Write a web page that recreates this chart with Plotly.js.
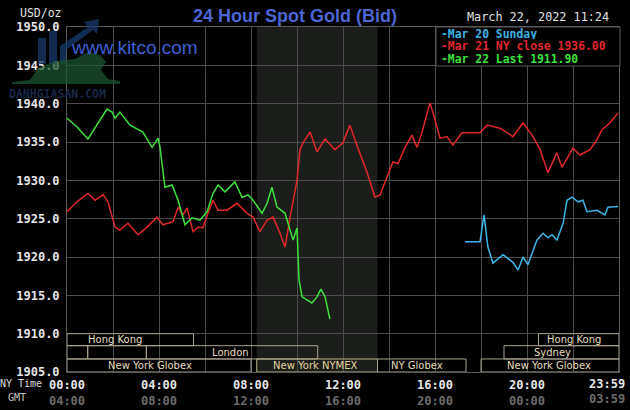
<!DOCTYPE html>
<html><head><meta charset="utf-8">
<script src="https://cdn.plot.ly/plotly-3.0.1.min.js"></script>
<style>html,body{margin:0;padding:0;background:#000;}#chart{width:630px;height:410px;}</style>
</head><body><div id="chart"></div>
<script>
// ---- data (NY time in hours, price USD/oz) ----
const greenHours = [0.00,0.43,0.91,1.35,1.74,1.96,2.09,2.30,2.74,3.30,3.70,3.96,4.04,4.26,4.57,4.83,5.13,5.43,5.78,6.09,6.35,6.57,6.87,7.30,7.61,7.87,8.09,8.48,8.70,8.91,9.13,9.48,9.70,9.83,10.00,10.04,10.09,10.22,10.43,10.65,10.87,11.04,11.22,11.35,11.43];
const greenPrice = [1938.1,1937.0,1935.4,1937.5,1939.3,1938.9,1938.1,1938.9,1937.2,1936.3,1934.3,1935.5,1934.4,1929.1,1929.4,1927.4,1924.2,1925.1,1924.8,1925.9,1928.3,1929.4,1928.5,1929.8,1927.8,1928.1,1927.4,1925.7,1927.0,1929.1,1926.5,1925.7,1923.5,1922.2,1923.8,1920.9,1917.0,1914.8,1914.4,1914.0,1914.8,1915.8,1914.8,1912.7,1911.9];

const redHours = [0.00,0.43,0.91,1.22,1.57,1.78,2.09,2.30,2.65,3.09,3.48,3.91,4.17,4.61,4.83,5.04,5.22,5.48,5.70,5.91,6.13,6.35,6.57,6.96,7.39,7.83,8.09,8.39,8.70,8.96,9.26,9.48,9.70,10.00,10.13,10.26,10.57,10.87,11.22,11.65,12.00,12.30,12.65,13.04,13.39,13.61,13.91,14.17,14.39,14.70,15.00,15.22,15.43,15.78,16.00,16.22,16.52,16.78,17.17,17.96,18.26,18.83,19.39,19.83,20.26,20.57,20.91,21.30,21.52,21.74,22.00,22.30,22.74,23.04,23.26,23.61,23.96];
const redPrice = [1925.9,1927.2,1928.3,1927.4,1928.1,1927.2,1923.9,1923.5,1924.4,1922.9,1923.9,1925.2,1924.2,1924.6,1926.5,1925.5,1926.4,1923.3,1923.9,1923.8,1925.7,1927.4,1926.1,1926.1,1927.0,1925.7,1925.2,1923.3,1924.8,1925.2,1923.1,1921.3,1925.2,1930.0,1934.0,1934.9,1936.3,1933.7,1935.4,1934.0,1934.9,1937.2,1934.2,1931.1,1927.8,1928.1,1930.4,1932.4,1932.2,1934.3,1935.9,1934.3,1936.2,1940.1,1937.9,1935.5,1935.7,1934.6,1936.2,1936.2,1937.2,1936.8,1935.7,1937.5,1935.7,1934.0,1931.0,1933.6,1931.7,1932.9,1934.2,1933.3,1934.0,1935.3,1936.6,1937.5,1938.8];

const blueHours = [17.30,17.96,18.13,18.30,18.52,18.96,19.39,19.61,19.83,20.04,20.43,20.70,20.91,21.09,21.30,21.57,21.74,21.96,22.22,22.43,22.61,23.04,23.39,23.52,23.96];
const bluePrice = [1922.0,1922.0,1925.5,1921.3,1919.2,1920.3,1919.3,1918.3,1920.0,1919.0,1922.2,1923.1,1922.5,1922.9,1922.2,1924.4,1927.4,1927.8,1927.2,1927.4,1925.9,1926.1,1925.5,1926.5,1926.6];

const legendLabels = ["-Mar 20 Sunday","-Mar 21 NY close 1936.00","-Mar 22 Last 1911.90"];
const yTicks = [1905,1910,1915,1920,1925,1930,1935,1940,1945,1950];
const xTickHours = [0,2,4,6,8,10,12,14,16,18,20,22,24];
const nyTimeLabels = ["00:00","","04:00","","08:00","","12:00","","16:00","","20:00","","23:59"];
const gmtLabels    = ["04:00","","08:00","","12:00","","16:00","","20:00","","00:00","","03:59"];

// market sessions
const sessStart = [0, 20.5, 0, 0.9, 3.45, 19.0, 0, 8.25, 13.5, 18.0];
const sessEnd   = [5.5, 24, 0.9, 3.45, 10.9, 24, 8.0, 13.5, 17.35, 24];
const sessRow   = [1, 1, 2, 2, 2, 2, 3, 3, 3, 3];
const sessLabel = ["Hong Kong","Hong Kong","","","London","Sydney","New York Globex","New York NYMEX","NY Globex","New York Globex"];
const sessLabelHour = [2.1, 22.05, 0, 0, 7.1, 21.1, 3.6, 10.8, 15.2, 20.96];
const nymexShade = [8.25, 13.5];

// ---- helpers ----
const L=67, T=27, W=552, H=345;
const px = x => (x - L) / W;
const py = y => (T + H - y) / H;
function pixPath(pts){ return pts.map((p,i)=>(i?'L':'M')+px(p[0]).toFixed(4)+','+py(p[1]).toFixed(4)).join(' ')+' Z'; }

const mono = 'DejaVu Sans Mono, monospace';
const traces = [
  {x: blueHours, y: bluePrice, mode:'lines', line:{color:'#3eb4e6', width:1.5}, hoverinfo:'skip'},
  {x: redHours, y: redPrice, mode:'lines', line:{color:'#e0282a', width:1.5}, hoverinfo:'skip'},
  {x: greenHours, y: greenPrice, mode:'lines', line:{color:'#3ee03c', width:1.5}, hoverinfo:'skip'}
];
const legendColors = ['#3eb4e6','#e0282a','#3ee03c'];

const rowTop = {1:1910, 2:1908.43, 3:1906.7};
const rowBot = {1:1908.43, 2:1906.7, 3:1905};

const shapes = [
  {type:'rect', xref:'x', yref:'paper', x0:nymexShade[0], x1:nymexShade[1], y0:0, y1:1, fillcolor:'#1b1d1a', line:{width:0}, layer:'below'}
];
const annotations = [];
for (let i=0;i<sessStart.length;i++){
  const isNymex = sessLabel[i]==='New York NYMEX';
  shapes.push({type:'rect', xref:'x', yref:'y', x0:sessStart[i], x1:sessEnd[i], y0:rowBot[sessRow[i]], y1:rowTop[sessRow[i]],
    line:{color: isNymex?'#bdb387':'#a9a28c', width:1}, fillcolor:'rgba(0,0,0,0)', layer:'above'});
  if (sessLabel[i]) annotations.push({xref:'x', yref:'y', x:sessLabelHour[i], y:(rowBot[sessRow[i]]+rowTop[sessRow[i]])/2,
    text:sessLabel[i], showarrow:false, xanchor:'center', yanchor:'middle', height:11,
    font:{family:'DejaVu Sans, sans-serif', size:10, color: isNymex?'#e6d79a':'#e6dcbc'}});
}
// legend box
shapes.push({type:'rect', xref:'paper', yref:'paper', x0:px(436), x1:px(620), y0:py(66), y1:py(27), fillcolor:'#000', line:{color:'#5a5a5a', width:1}, layer:'above'});
legendLabels.forEach((t,i)=>annotations.push({xref:'paper', yref:'paper', x:px(440), y:py([33,46,59][i]), text:t, showarrow:false,
  xanchor:'left', yanchor:'middle', height:11, borderpad:0, font:{family:mono, size:11.4, weight:'bold', color:legendColors[i]}}));

// watermark (decorative)
shapes.push({type:'path', xref:'paper', yref:'paper', path:pixPath([[38,64],[38,38],[46,38],[46,64]]), fillcolor:'rgba(24,58,108,0.75)', line:{width:0}, layer:'above'});
shapes.push({type:'path', xref:'paper', yref:'paper', path:pixPath([[49,64],[49,31],[57,31],[57,64]]), fillcolor:'rgba(24,58,108,0.75)', line:{width:0}, layer:'above'});
shapes.push({type:'path', xref:'paper', yref:'paper', path:pixPath([[60,64],[60,46],[88,27],[84,22],[99,19],[97,34],[93,30],[66,50],[66,64]]), fillcolor:'rgba(24,58,108,0.75)', line:{width:0}, layer:'above'});
shapes.push({type:'path', xref:'paper', yref:'paper', path:pixPath([[12,82],[30,80],[38,68],[55,61],[75,59],[88,52],[100,55],[106,62],[101,70],[108,79],[120,81],[120,84],[12,84]]), fillcolor:'rgba(28,88,50,0.72)', line:{width:0}, layer:'above'});
annotations.push({xref:'paper', yref:'paper', x:px(57), y:py(93), text:'<b>DANHGIASAN.COM</b>', showarrow:false, xanchor:'center', yanchor:'middle', height:9, borderpad:0, font:{family:mono, size:11.5, color:'#1a2746'}});

// texts
annotations.push({xref:'paper', yref:'paper', x:px(295), y:py(16), text:'<b>24 Hour Spot Gold (Bid)</b>', showarrow:false, xanchor:'center', yanchor:'middle', font:{family:'Liberation Sans, Arial, sans-serif', size:18, color:'#4c66d4'}});
annotations.push({xref:'paper', yref:'paper', x:px(134), y:py(48), text:'www.kitco.com', showarrow:false, xanchor:'center', yanchor:'middle', font:{family:'Liberation Sans, Arial, sans-serif', size:19, color:'#3f5fd2'}});
annotations.push({xref:'paper', yref:'paper', x:px(538), y:py(17), text:'March 22, 2022 11:24', showarrow:false, xanchor:'center', yanchor:'middle', height:12, borderpad:0, font:{family:mono, size:11.8, color:'#e0e0e0'}});
annotations.push({xref:'paper', yref:'paper', x:px(41), y:py(13), text:'USD/oz', showarrow:false, xanchor:'center', yanchor:'middle', font:{family:mono, size:11.5, color:'#e0e0e0'}});
annotations.push({xref:'paper', yref:'paper', x:px(44), y:py(383), text:'NY Time', showarrow:false, xanchor:'right', yanchor:'middle', font:{family:mono, size:10, color:'#dcdcdc'}});
annotations.push({xref:'paper', yref:'paper', x:px(28), y:py(397), text:'GMT', showarrow:false, xanchor:'right', yanchor:'middle', font:{family:mono, size:10, color:'#c8c8c8'}});

// last tick label (23:59) sits left of the right edge, as in the reference
const lastI = xTickHours.length-1;
const tickFont = {family:mono, size:12, weight:'bold', color:'#e6e6e6'};
annotations.push({xref:'paper', yref:'paper', x:px(607), y:py(384), text:nyTimeLabels[lastI], showarrow:false, xanchor:'center', yanchor:'middle', font:tickFont});
annotations.push({xref:'paper', yref:'paper', x:px(607), y:py(399), text:gmtLabels[lastI], showarrow:false, xanchor:'center', yanchor:'middle', font:Object.assign({}, tickFont, {color:'#6c6c6c'})});

const xTickText = xTickHours.map((h,i)=> (nyTimeLabels[i] && i!==lastI) ? nyTimeLabels[i]+'<br><span style="color:#6c6c6c">'+gmtLabels[i]+'</span>' : '');

const layout = {
  width:630, height:410, paper_bgcolor:'#000', plot_bgcolor:'#000',
  margin:{l:L, r:630-L-W, t:T, b:410-T-H, pad:0},
  showlegend:false,
  xaxis:{range:[0,24], tickvals:xTickHours, ticktext:xTickText, showgrid:true, gridcolor:'#4c4c4c', gridwidth:1,
    zeroline:false, showline:true, mirror:true, linecolor:'#5a5a5a', ticks:'', ticklabelstandoff:2,
    tickfont:tickFont, fixedrange:true},
  yaxis:{range:[1905,1950], tickvals:yTicks, ticktext:yTicks.map(v=>v.toFixed(1)), showgrid:true, gridcolor:'#4c4c4c', gridwidth:1,
    zeroline:false, showline:true, mirror:true, linecolor:'#5a5a5a', ticks:'', ticklabelstandoff:4,
    tickfont:tickFont, fixedrange:true},
  shapes:shapes, annotations:annotations
};
Plotly.newPlot('chart', traces, layout, {staticPlot:true, displayModeBar:false});
</script></body></html>
